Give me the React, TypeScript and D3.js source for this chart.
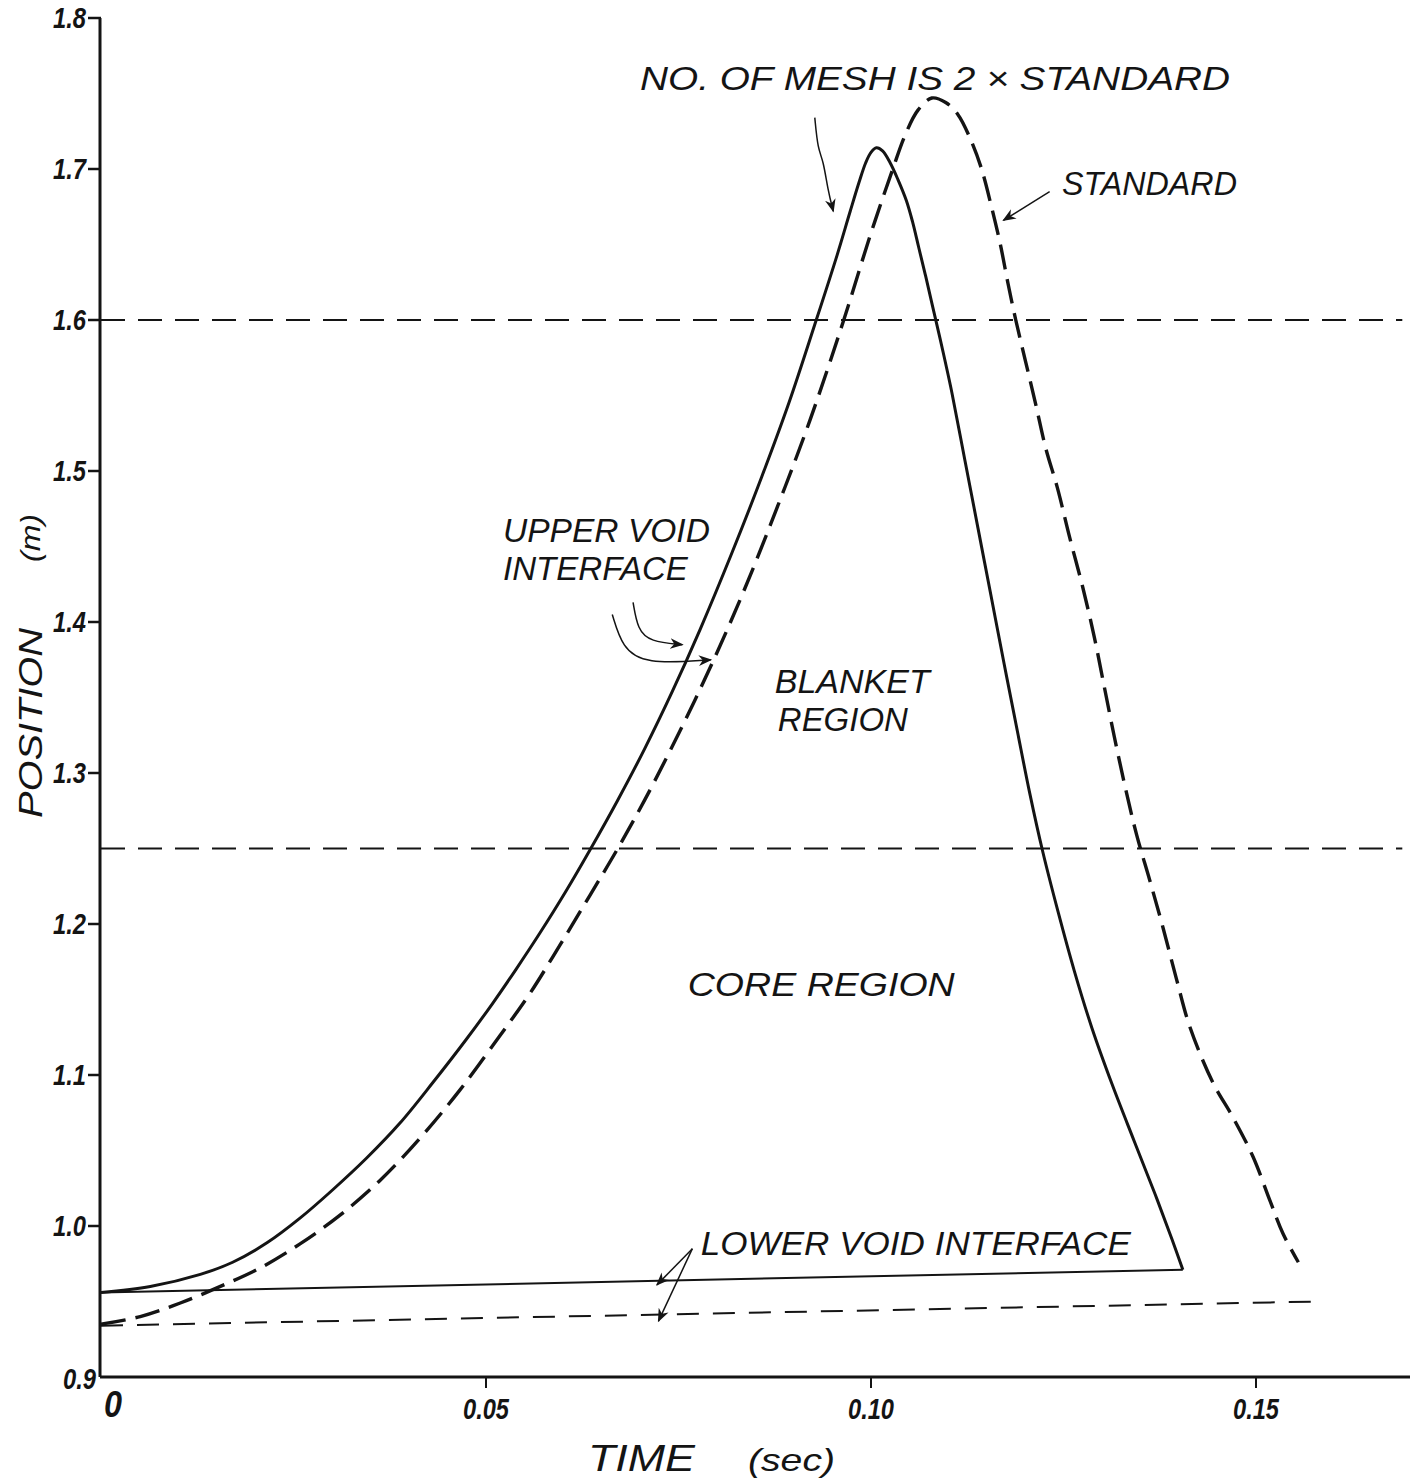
import React from 'react';
import * as d3 from 'd3';

// upper void interface, mesh = 2 x standard (solid)
const meshT = [0, 0.0064, 0.0129, 0.0171, 0.0216, 0.0258, 0.0301, 0.0345, 0.0388, 0.0431, 0.0475, 0.0508, 0.0539, 0.057, 0.0603, 0.0635, 0.067, 0.0706, 0.0742, 0.0778, 0.0818, 0.0858, 0.0894, 0.0927, 0.0956, 0.0973, 0.0985, 0.0993, 0.1, 0.1007, 0.1015, 0.1025, 0.1035, 0.1046, 0.1054, 0.1062, 0.1071, 0.108, 0.109, 0.1097, 0.1105, 0.1122, 0.1139, 0.1156, 0.1173, 0.119, 0.1206, 0.1223, 0.1243, 0.1264, 0.1287, 0.1313, 0.1342, 0.1369, 0.1391, 0.1405];
const meshV = [0.956, 0.96, 0.968, 0.976, 0.989, 1.005, 1.024, 1.045, 1.068, 1.095, 1.124, 1.147, 1.17, 1.194, 1.221, 1.249, 1.281, 1.316, 1.354, 1.395, 1.444, 1.496, 1.546, 1.597, 1.643, 1.672, 1.692, 1.704, 1.711, 1.714, 1.712, 1.704, 1.693, 1.679, 1.665, 1.648, 1.629, 1.609, 1.587, 1.571, 1.552, 1.507, 1.462, 1.417, 1.372, 1.328, 1.287, 1.248, 1.208, 1.169, 1.131, 1.094, 1.056, 1.021, 0.991, 0.971];

// upper void interface, standard mesh (dashed)
const stdT = [0, 0.0051, 0.0103, 0.0155, 0.0206, 0.0258, 0.031, 0.0362, 0.0414, 0.0466, 0.0518, 0.0557, 0.0596, 0.0635, 0.067, 0.0706, 0.0752, 0.0794, 0.0836, 0.0879, 0.0921, 0.0964, 0.0999, 0.1029, 0.1044, 0.1061, 0.1079, 0.1097, 0.1113, 0.1129, 0.1143, 0.1156, 0.1168, 0.1178, 0.1188, 0.1201, 0.1214, 0.1227, 0.1242, 0.1258, 0.1275, 0.129, 0.1303, 0.1316, 0.133, 0.1345, 0.1362, 0.1379, 0.1397, 0.1414, 0.1444, 0.147, 0.1496, 0.1518, 0.1535, 0.1555];
const stdV = [0.935, 0.94, 0.949, 0.96, 0.972, 0.988, 1.007, 1.03, 1.058, 1.09, 1.126, 1.154, 1.186, 1.219, 1.249, 1.282, 1.328, 1.373, 1.422, 1.477, 1.534, 1.599, 1.656, 1.701, 1.722, 1.739, 1.747, 1.744, 1.736, 1.72, 1.701, 1.676, 1.65, 1.624, 1.6, 1.572, 1.544, 1.515, 1.489, 1.456, 1.423, 1.39, 1.357, 1.324, 1.291, 1.259, 1.229, 1.198, 1.163, 1.132, 1.095, 1.072, 1.046, 1.017, 0.995, 0.976];

// lower void interfaces
const lowerMeshT = [0, 0.1405];
const lowerMeshV = [0.956, 0.971];
const lowerStdT = [0, 0.158];
const lowerStdV = [0.934, 0.95];

// region boundaries
const boundaryLevels = [1.6, 1.25];
const boundaryEnd = 0.169;

const xTicks = [0, 0.05, 0.1, 0.15];
const xTickLabels = ['0', '0.05', '0.10', '0.15'];
const yTicks = [0.9, 1.0, 1.1, 1.2, 1.3, 1.4, 1.5, 1.6, 1.7, 1.8];
const yTickLabels = ['0.9', '1.0', '1.1', '1.2', '1.3', '1.4', '1.5', '1.6', '1.7', '1.8'];

const W = 1418, H = 1479;
const ink = '#141414';
const font = '"Liberation Sans", "DejaVu Sans", sans-serif';

// annotation text: [text, t, v, width]
const notes: [string, number, number, number][] = [
  ['NO. OF MESH  IS  2 × STANDARD', 0.07, 1.752, 590],
  ['STANDARD', 0.1248, 1.683, 175],
  ['UPPER VOID', 0.0522, 1.453, 207],
  ['INTERFACE', 0.0522, 1.428, 185],
  ['BLANKET', 0.0875, 1.353, 155],
  ['REGION', 0.0879, 1.328, 130],
  ['CORE  REGION', 0.0762, 1.152, 267],
  ['LOWER  VOID  INTERFACE', 0.0779, 0.981, 430],
];

// pointer arrows, in data units
const arrows: [number, number][][] = [
  [[0.0927, 1.734], [0.0931, 1.713], [0.0938, 1.706], [0.0944, 1.686], [0.0951, 1.672]],
  [[0.1232, 1.685], [0.1172, 1.666]],
  [[0.0691, 1.413], [0.0697, 1.395], [0.0713, 1.387], [0.0755, 1.385]],
  [[0.0664, 1.405], [0.0677, 1.383], [0.0706, 1.372], [0.0792, 1.375]],
  [[0.0768, 0.985], [0.0722, 0.961]],
  [[0.0768, 0.985], [0.0724, 0.937]],
];

export default function App() {
  const x = d3.scaleLinear().domain([0, 0.17]).range([101, 1410]);
  const y = d3.scaleLinear().domain([0.9, 1.8]).range([1377, 18]);

  const curve = d3.line<[number, number]>()
    .x(d => x(d[0]))
    .y(d => y(d[1]))
    .curve(d3.curveCatmullRom.alpha(0.5));
  const straight = d3.line<[number, number]>()
    .x(d => x(d[0]))
    .y(d => y(d[1]));
  const pointer = d3.line<[number, number]>()
    .x(d => x(d[0]))
    .y(d => y(d[1]))
    .curve(d3.curveBasis);

  const zip = (a: number[], b: number[]) => a.map((t, i) => [t, b[i]] as [number, number]);

  return (
    <svg width={W} height={H} style={{ position: 'absolute', left: 0, top: 0, background: '#fff' }}
      fontFamily={font} fontStyle="italic">
      <defs>
        <marker id="head" viewBox="0 0 10 10" refX="9" refY="5" markerWidth="9" markerHeight="9" orient="auto">
          <path d="M0,1 L10,5 L0,9 L3,5 Z" fill={ink} />
        </marker>
      </defs>
      <rect width={W} height={H} fill="#fff" />

      {/* region boundaries */}
      {boundaryLevels.map(lv => (
        <line key={lv} x1={x(0)} x2={x(boundaryEnd)} y1={y(lv)} y2={y(lv)}
          stroke={ink} strokeWidth={2.2} strokeDasharray="24 13" />
      ))}

      {/* lower void interfaces */}
      <path d={straight(zip(lowerMeshT, lowerMeshV)) || ''} fill="none" stroke={ink} strokeWidth={2} />
      <path d={straight(zip(lowerStdT, lowerStdV)) || ''} fill="none" stroke={ink} strokeWidth={2} strokeDasharray="22 14" />

      {/* upper void interfaces */}
      <path d={curve(zip(meshT, meshV)) || ''} fill="none" stroke={ink} strokeWidth={3} />
      <path d={curve(zip(stdT, stdV)) || ''} fill="none" stroke={ink} strokeWidth={3.4} strokeDasharray="25 10" />

      {/* axes */}
      <line x1={x(0) - 1} x2={x(0) - 1} y1={y(1.8)} y2={y(0.9)} stroke={ink} strokeWidth={3} />
      <line x1={x(0) - 1} x2={x(0.17)} y1={y(0.9)} y2={y(0.9)} stroke={ink} strokeWidth={3} />
      {yTicks.map((v, i) => (
        <g key={v}>
          {i > 0 && <line x1={x(0) - 13} x2={x(0)} y1={y(v)} y2={y(v)} stroke={ink} strokeWidth={2.5} />}
          <text x={i === 0 ? x(0) - 5 : x(0) - 15} y={y(v) + (i === 0 ? 12 : 10)} textAnchor="end"
            fontSize={30} fontWeight="bold" fill={ink} textLength={33} lengthAdjust="spacingAndGlyphs">{yTickLabels[i]}</text>
        </g>
      ))}
      {xTicks.map((t, i) => (
        <g key={t}>
          {i > 0 && <line x1={x(t)} x2={x(t)} y1={y(0.9)} y2={y(0.9) + 11} stroke={ink} strokeWidth={2} />}
          <text x={i === 0 ? x(t) + 12 : x(t)} y={y(0.9) + (i === 0 ? 40 : 42)} textAnchor="middle"
            fontSize={i === 0 ? 36 : 30} fontWeight="bold" fill={ink}
            textLength={i === 0 ? 18 : 46} lengthAdjust="spacingAndGlyphs">{xTickLabels[i]}</text>
        </g>
      ))}

      {/* axis titles */}
      <text x={588} y={1471} fontSize={37} fill={ink} textLength={107} lengthAdjust="spacingAndGlyphs">TIME</text>
      <text x={748} y={1471} fontSize={32} fill={ink} textLength={87} lengthAdjust="spacingAndGlyphs">(sec)</text>
      <text transform="translate(42,818) rotate(-90)" fontSize={34} fill={ink} textLength={190} lengthAdjust="spacingAndGlyphs">POSITION</text>
      <text transform="translate(40,562) rotate(-90)" fontSize={28} fill={ink} textLength={48} lengthAdjust="spacingAndGlyphs">(m)</text>

      {/* annotations */}
      {notes.map(([s, t, v, w]) => (
        <text key={s} x={x(t)} y={y(v)} fontSize={33} fill={ink} textLength={w} lengthAdjust="spacingAndGlyphs">{s}</text>
      ))}
      {arrows.map((pts, i) => (
        <path key={i} d={pointer(pts) || ''} fill="none" stroke={ink} strokeWidth={1.5} markerEnd="url(#head)" />
      ))}
    </svg>
  );
}
